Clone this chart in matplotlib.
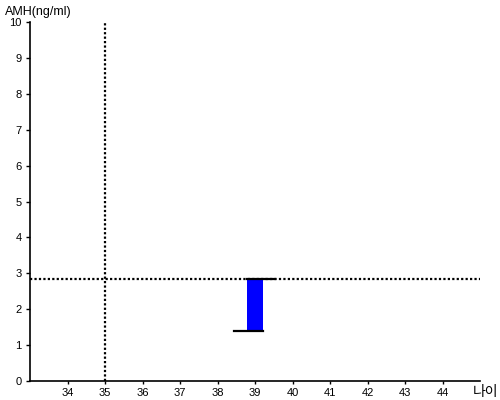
import matplotlib
matplotlib.use("Agg")
from matplotlib import pyplot as plt

plt.rcParams['font.family'] = ['Liberation Sans', 'Noto Sans CJK KR', 'DejaVu Sans']

# data
age_ref = 35
amh_ref = 2.84
bar_age = 39
amh_low = 1.40
amh_high = 2.84
x_ticks = [34, 35, 36, 37, 38, 39, 40, 41, 42, 43, 44]
y_ticks = [0, 1, 2, 3, 4, 5, 6, 7, 8, 9, 10]

fig = plt.figure(figsize=(5, 4), dpi=100)
ax = fig.add_axes([0.06, 0.0475, 0.90, 0.8975])

ax.set_xlim(33, 45)
ax.set_ylim(0, 10)

# reference lines
ax.axvline(age_ref, color='black', lw=1.6, linestyle=(0, (1, 1)))
ax.axhline(amh_ref, color='black', lw=1.6, linestyle=(0, (1, 1)))

# range bar
w = 0.42
ax.bar(bar_age, amh_high - amh_low, bottom=amh_low, width=w, color='#0000ff', zorder=3)
ax.plot([bar_age - 0.55, bar_age + w / 2], [amh_low, amh_low], color='black', lw=1.6, zorder=4)
ax.plot([bar_age - w / 2, bar_age + 0.52], [amh_high, amh_high], color='black', lw=1.6, zorder=4)

for s in ['top', 'right']:
    ax.spines[s].set_visible(False)
for s in ['left', 'bottom']:
    ax.spines[s].set_linewidth(1.2)

ax.set_xticks(x_ticks)
ax.set_yticks(y_ticks)
ax.tick_params(axis='x', length=2, width=1, labelsize=8, pad=3)
ax.tick_params(axis='y', length=3, width=1, labelsize=8, pad=3)

fig.text(0.01, 0.985, 'AMH(ng/ml)', fontsize=9, va='top', ha='left')
fig.text(0.946, 0.01, '나이', fontsize=10, va='baseline', ha='left',
         family=['Noto Sans CJK KR', 'DejaVu Sans'])

fig.savefig('out.png', dpi=100)
